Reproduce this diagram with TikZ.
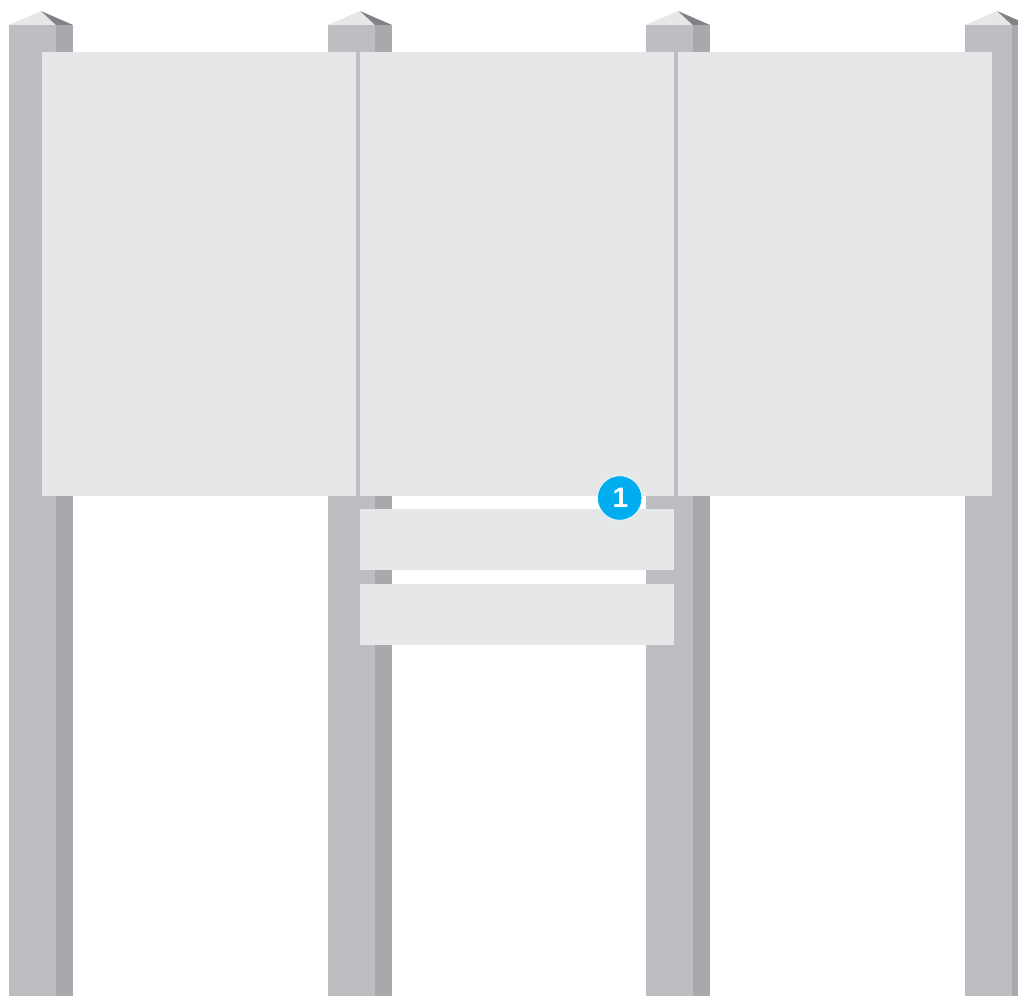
\documentclass[tikz,border=0pt]{standalone}
\usepackage{fontspec}
\setmainfont{Liberation Sans}
\usepackage{tikz}
\definecolor{mFront}{HTML}{BCBEC2}
\definecolor{mSide}{HTML}{A7A9AC}
\definecolor{mPanel}{HTML}{E6E7E8}
\definecolor{mRoof}{HTML}{808285}
\definecolor{mBadge}{HTML}{00AEEF}
\tikzset{
  front/.style = {fill=mFront},
  side/.style  = {fill=mSide},
  capl/.style  = {fill=mPanel},
  capd/.style  = {fill=mRoof},
  panel/.style = {fill=mPanel},
  badge/.style = {circle, fill=mBadge, draw=white, line width=0.15mm, text=white,
                  font=\bfseries\fontsize{20}{20}\selectfont, inner sep=0pt,
                  minimum size=11.1mm},
}

\begin{document}
\begin{tikzpicture}[x=0.25mm, y=-0.25mm]
  \useasboundingbox (0,0) rectangle (1018,996);
  \clip (0,0) rectangle (1018,996);
  % posts
  \foreach \px in {9,328,646,965} {
    \fill[front] (\px,25) rectangle ++(47,971);
    \fill[side]  (\px+47,25) rectangle ++(17,971);
    \fill[capl]  (\px,25) -- (\px+32,11) -- (\px+47,25) -- cycle;
    \fill[capd]  (\px+32,11) -- (\px+64,25) -- (\px+47,25) -- cycle;
  }
  % panels
  \fill[panel] (42,52) rectangle (356,496);
  \fill[panel] (360,52) rectangle (674,496);
  \fill[panel] (678,52) rectangle (992,496);
  \fill[panel] (360,509) rectangle (674,570);
  \fill[panel] (360,584) rectangle (674,645);
  \node[badge] (one) at (619.7,498) {\raisebox{-0.35mm}{\hspace*{0.4mm}1}};
\end{tikzpicture}
\end{document}
